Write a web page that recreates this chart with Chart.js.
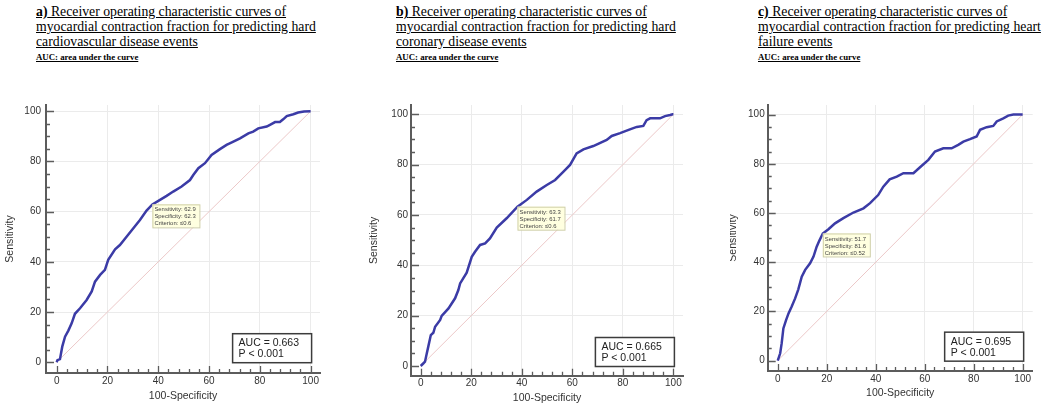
<!DOCTYPE html>
<html><head><meta charset="utf-8">
<script src="https://cdn.jsdelivr.net/npm/chart.js@4.4.1/dist/chart.umd.min.js"></script>
<style>
html,body{margin:0;padding:0;background:#fff;width:1050px;height:407px;overflow:hidden;position:relative}
.ttl{position:absolute;top:4px;font-family:'Liberation Serif','Times New Roman',serif;font-size:13.75px;line-height:15px;color:#000;white-space:nowrap}
.ttl span.l{text-decoration:underline}
.ttl .sub{position:absolute;top:49px;left:0;font-size:8.8px;font-weight:bold;line-height:9px;text-decoration:underline}
.panel{position:absolute;top:90px;height:317px;overflow:hidden}
.panel canvas{position:absolute;top:0}
</style></head><body>

<div class="ttl" style="left:36px"><span class="l"><b>a)</b> Receiver operating characteristic curves of</span><br><span class="l">myocardial contraction fraction for predicting hard</span><br><span class="l">cardiovascular disease events</span><div class="sub">AUC: area under the curve</div></div>
<div class="ttl" style="left:396px"><span class="l"><b>b)</b> Receiver operating characteristic curves of</span><br><span class="l">myocardial contraction fraction for predicting hard</span><br><span class="l">coronary disease events</span><div class="sub">AUC: area under the curve</div></div>
<div class="ttl" style="left:758px"><span class="l"><b>c)</b> Receiver operating characteristic curves of</span><br><span class="l">myocardial contraction fraction for predicting heart</span><br><span class="l">failure events</span><div class="sub">AUC: area under the curve</div></div>

<div class="panel" style="left:0px;width:330px"><canvas id="cA" width="330" height="317" style="left:0px"></canvas></div>
<div class="panel" style="left:360px;width:335px"><canvas id="cB" width="335" height="317" style="left:0px"></canvas></div>
<div class="panel" style="left:730px;width:320px"><canvas id="cC" width="325" height="317" style="left:-5px"></canvas></div>

<script>
// ---- data ----
const tickLabels = [0, 20, 40, 60, 80, 100];
const diagX = [0, 100];
const diagY = [0, 100];

const rocA_x = [0,0.3,1.3,2.2,3.3,4.6,5.9,7.2,9.2,11.8,13.8,15.1,17.1,19,20.3,23,24.9,27.6,30.2,32.8,35.4,37.7,40.7,43.3,45.9,49.2,52.5,53.8,55.8,58.4,61,64.3,66.9,69.6,72.2,75.5,77.4,79.4,82.7,84,86,87.9,89.2,90.6,93.2,95.1,97.4,100];
const rocA_y = [0,0.8,1.2,6.2,10.2,12.6,15.5,19.3,21.5,24.8,28.2,32.1,34.8,36.8,40.8,45,46.7,50.1,53.4,56.7,60.4,62.9,64.7,66.3,68,70,72.6,74.6,77.3,79.3,82.6,84.9,86.6,87.9,89.2,91.2,91.9,93.2,93.9,94.6,95.7,95.7,96.8,98.1,98.8,99.5,99.9,100];

const rocB_x = [0,1,1.7,2.4,3,4,5,5.7,7.7,8.3,11,13.6,14.9,15.6,18.2,20.2,21.5,23.5,25.5,27.4,30.1,34,38.3,42,45.9,49.9,53.2,56.5,59.1,61.7,64.4,68.3,73.6,75.6,78.9,82.8,85.5,88.1,89.4,90.8,94.7,96.7,98.7,99.7,100];
const rocB_y = [0,1,1.7,5,7.7,12.3,13.2,15.6,18.3,19.9,22.9,26.9,30.2,32.8,37.1,43.4,45.4,48.1,48.7,50.7,55,58.7,63.3,66,69.3,71.9,73.9,77.2,79.9,84.5,86.1,87.4,89.8,91.4,92.5,94,95,95.4,97.7,98.4,98.4,99.3,99.7,100,100];

const rocC_x = [0,1,1.6,2.3,3.4,4.4,5.7,7.1,8.4,9.8,11.2,13.2,14.6,15.9,17,18.4,20.7,23.4,26.8,30.9,35,37.7,41,43.1,45.7,48.6,51.3,55.4,58.1,61.5,64.2,67.6,71,73.7,75.8,78.5,81.2,82.6,85.3,88,89.4,92.1,94.1,96.2,100];
const rocC_y = [0,3,7,13.1,16.5,19.2,22,25.3,29,34.1,36.9,39.6,42.3,46.3,48.8,51.7,53.4,55.8,57.9,60.2,61.9,64,67.3,70.7,73.7,74.8,76.2,76.2,78.6,81.6,85,86.3,86.3,87.7,89,90,91.1,93.8,94.9,95.4,97.2,98.5,99.6,100,100];

const sensitivity = [62.9, 63.3, 51.7];
const specificity = [62.3, 61.7, 81.6];
const criterion = ['\u22640.6', '\u22640.6', '\u22640.52'];
const aucValues = ['0.663', '0.665', '0.695'];
const pValues = ['< 0.001', '< 0.001', '< 0.001'];

// ---- decoration plugin (tick marks, criterion label, AUC box) ----
const rocDecor = {
  id: 'rocDecor',
  beforeDatasetsDraw(chart) {
    const {ctx, chartArea: a, scales: {x, y}} = chart;
    ctx.save();
    ctx.strokeStyle = '#5c5c5c';
    ctx.lineWidth = 1.3;
    ctx.beginPath();
    for (let v = 0; v <= 100; v += 4) {
      const px = Math.round(x.getPixelForValue(v)) + 0.5;
      const len = v % 20 === 0 ? 7 : 4;
      ctx.moveTo(px, a.bottom); ctx.lineTo(px, a.bottom - len);
    }
    for (let v = 0; v <= 100; v += 5) {
      const py = Math.round(y.getPixelForValue(v)) + 0.5;
      const len = v % 20 === 0 ? 8 : 4;
      ctx.moveTo(a.left, py); ctx.lineTo(a.left + len, py);
    }
    ctx.stroke();
    ctx.restore();
  },
  afterDatasetsDraw(chart, args, o) {
    const {ctx, scales: {x, y}} = chart;
    const i = o.idx;
    ctx.save();
    // criterion label
    const px = x.getPixelForValue(100 - specificity[i]);
    const py = y.getPixelForValue(sensitivity[i]);
    ctx.fillStyle = '#ffffe0';
    ctx.strokeStyle = '#cfcfa8';
    ctx.lineWidth = 1;
    ctx.fillRect(px, py, 47, 23);
    ctx.strokeRect(px + 0.5, py + 0.5, 47, 23);
    ctx.fillStyle = '#444';
    ctx.font = '5.9px "Liberation Sans", Arial, sans-serif';
    ctx.textBaseline = 'middle';
    ctx.fillText('Sensitivity: ' + sensitivity[i], px + 2, py + 5.5);
    ctx.fillText('Specificity: ' + specificity[i], px + 2, py + 12.5);
    ctx.fillText('Criterion: ' + criterion[i], px + 2, py + 19.5);
    // AUC box
    const rx = x.getPixelForValue(100) + 1;
    const by = y.getPixelForValue(0) + 0.5;
    const w = 79, h = 29;
    ctx.fillStyle = '#fff';
    ctx.fillRect(rx - w, by - h, w, h);
    ctx.strokeStyle = '#3c3c3c';
    ctx.lineWidth = 1.5;
    ctx.strokeRect(rx - w, by - h, w, h);
    ctx.fillStyle = '#222';
    ctx.font = '10.5px "Liberation Sans", Arial, sans-serif';
    ctx.fillText('AUC = ' + aucValues[i], rx - w + 6, by - h + 9.5);
    ctx.fillText('P ' + pValues[i], rx - w + 6, by - h + 20.5);
    ctx.restore();
  }
};

function pts(xs, ys) { return xs.map((v, k) => ({x: v, y: ys[k]})); }

function makeChart(id, idx, xs, ys, L) {
  return new Chart(document.getElementById(id), {
    type: 'scatter',
    data: {
      datasets: [
        {data: pts(xs, ys), showLine: true, borderColor: '#3b3ba6', borderWidth: 2.5, pointRadius: 0, tension: 0, order: 0},
        {data: pts(diagX, diagY), showLine: true, borderColor: '#ecc8c8', borderWidth: 1, pointRadius: 0, order: 1}
      ]
    },
    options: {
      responsive: false,
      animation: false,
      devicePixelRatio: 1,
      layout: {autoPadding: false, padding: {top: L.padTop, right: L.padRight, left: 0, bottom: 0}},
      plugins: {legend: {display: false}, tooltip: {enabled: false}, rocDecor: {idx: idx}},
      scales: {
        x: {
          type: 'linear', min: L.xMin, max: L.xMax,
          afterBuildTicks: s => { s.ticks = tickLabels.map(v => ({value: v})); },
          afterFit: s => { s.height = L.xH; },
          ticks: {color: '#333', font: {family: '"Liberation Sans", Arial, sans-serif', size: 10}, padding: L.xTickPad, maxRotation: 0},
          grid: {drawTicks: false, color: c => (c.tick && c.tick.value > 0 ? '#ebebeb' : 'rgba(0,0,0,0)'), lineWidth: 1},
          border: {display: true, color: '#5c5c5c', width: 2},
          title: {display: true, text: '100-Specificity', color: '#333', font: {family: '"Liberation Sans", Arial, sans-serif', size: 10.5}, padding: {top: 0, bottom: L.xTitlePad}}
        },
        y: {
          type: 'linear', min: L.yMin, max: L.yMax,
          afterBuildTicks: s => { s.ticks = tickLabels.map(v => ({value: v})); },
          afterFit: s => { s.width = L.yW; },
          ticks: {color: '#333', font: {family: '"Liberation Sans", Arial, sans-serif', size: 10}, padding: L.yTickPad},
          grid: {drawTicks: false, color: c => (c.tick && c.tick.value > 0 ? '#ebebeb' : 'rgba(0,0,0,0)'), lineWidth: 1},
          border: {display: true, color: '#5c5c5c', width: 2},
          title: {display: true, text: 'Sensitivity', color: '#333', font: {family: '"Liberation Sans", Arial, sans-serif', size: 10.5}, padding: {top: L.yTitlePad, bottom: 0}}
        }
      }
    },
    plugins: [rocDecor]
  });
}

makeChart('cA', 0, rocA_x, rocA_y, {padTop: 15, padRight: 10, xH: 34, yW: 46, xMin: -4.2, xMax: 103.7, yMin: -4.3, yMax: 102.5, xTickPad: 2, yTickPad: 5, xTitlePad: 5, yTitlePad: 4});
makeChart('cB', 1, rocB_x, rocB_y, {padTop: 15, padRight: 12, xH: 31.3, yW: 51, xMin: -3.84, xMax: 103.8, yMin: -3.85, yMax: 103.7, xTickPad: 2, yTickPad: 3, xTitlePad: 2.4, yTitlePad: 7.7});
makeChart('cC', 2, rocC_x, rocC_y, {padTop: 15, padRight: 17.3, xH: 36, yW: 42.7, xMin: -4.1, xMax: 104.1, yMin: -4.2, yMax: 103.9, xTickPad: 2, yTickPad: 3, xTitlePad: 8, yTitlePad: 2});
</script>
</body></html>
